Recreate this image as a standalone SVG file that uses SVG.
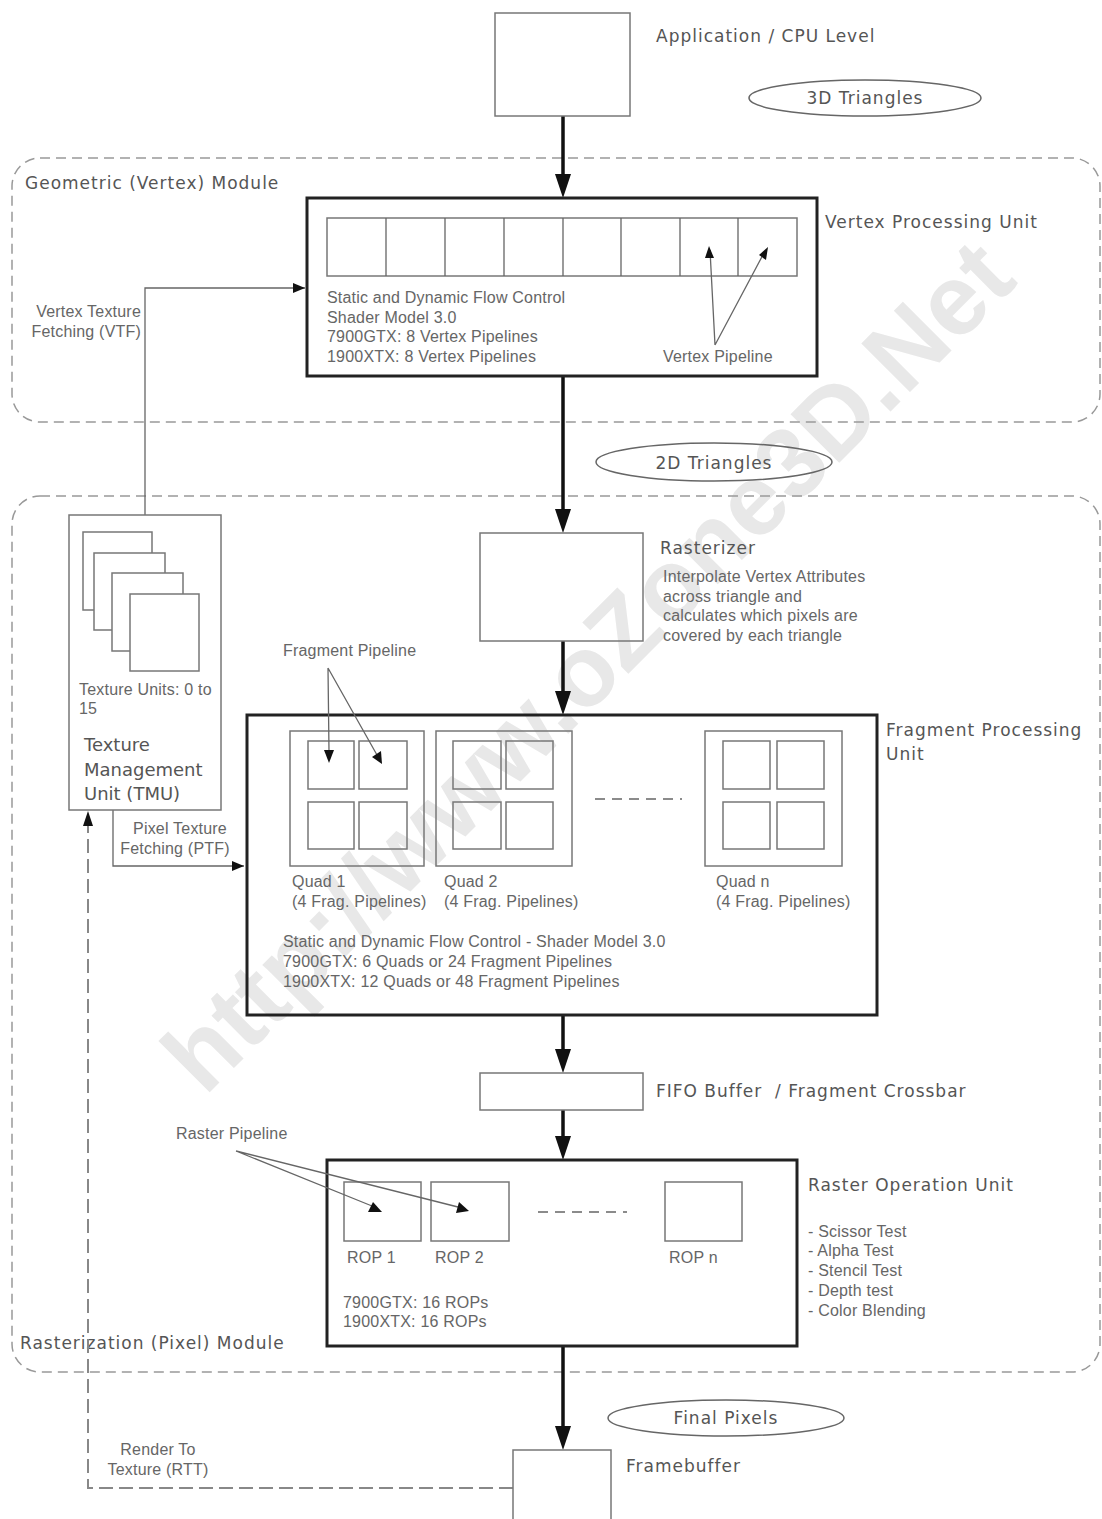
<svg xmlns="http://www.w3.org/2000/svg" width="1102" height="1519" viewBox="0 0 1102 1519">
<style>
.lbl{font-family:"DejaVu Sans",sans-serif;font-size:17px;letter-spacing:1px;fill:#555;white-space:pre}
.big{font-family:"DejaVu Sans",sans-serif;font-size:18px;fill:#555}
.sm{font-family:"Liberation Sans",Arial,sans-serif;font-size:16px;letter-spacing:0.2px;fill:#666}
.box{fill:none;stroke:#777;stroke-width:1.5}
.thick{fill:none;stroke:#222;stroke-width:3}
.mod{fill:none;stroke:#999;stroke-width:1.5;stroke-dasharray:10,6}
.flow{stroke:#111;stroke-width:3.5;fill:none}
.thin{stroke:#666;stroke-width:1.3;fill:none}
.ell{fill:none;stroke:#666;stroke-width:1.5}
.wm{font-family:"Liberation Sans",Arial,sans-serif;font-weight:bold;font-size:100px;fill:#e8e8e8}
</style>
<defs>
<marker id="ah" markerWidth="14" markerHeight="14" refX="12" refY="5" orient="auto" markerUnits="userSpaceOnUse" viewBox="0 0 14 10">
<path d="M0,0 L12,5 L0,10 Z" fill="#111"/>
</marker>
</defs>
<rect width="1102" height="1519" fill="#fff"/>
<text class="wm" transform="translate(612,690) rotate(-45)" text-anchor="middle">http://www.oZone3D.Net</text>

<g id="modules">
<rect id="geometric-module" class="mod" x="12" y="158" width="1088" height="264" rx="28"/>
<text class="lbl" x="25" y="189">Geometric (Vertex) Module</text>
<rect id="pixel-module" class="mod" x="12" y="496" width="1088" height="876" rx="28"/>
<text class="lbl" x="20" y="1349">Rasterization (Pixel) Module</text>
</g>

<g id="connectors">
<path class="flow" d="M563,116 V176"/>
<path d="M555,174 L571,174 L563,198 Z" fill="#111"/>
<path class="flow" d="M563,376 V511"/>
<path d="M555,509 L571,509 L563,533 Z" fill="#111"/>
<path class="flow" d="M563,641 V693"/>
<path d="M555,691 L571,691 L563,715 Z" fill="#111"/>
<path class="flow" d="M563,1015 V1051"/>
<path d="M555,1049 L571,1049 L563,1073 Z" fill="#111"/>
<path class="flow" d="M563,1110 V1138"/>
<path d="M555,1136 L571,1136 L563,1160 Z" fill="#111"/>
<path class="flow" d="M563,1346 V1428"/>
<path d="M555,1426 L571,1426 L563,1450 Z" fill="#111"/>
<path id="vtf" class="thin" d="M145,515 V288 H305" marker-end="url(#ah)"/>
<path id="ptf" class="thin" d="M113,810 V866 H244" marker-end="url(#ah)"/>
<path id="rtt" d="M513,1488 H88 V814" fill="none" stroke="#888" stroke-width="2" stroke-dasharray="14,6"/>
<path d="M83,826 L88,811 L93,826 Z" fill="#111"/>
</g>

<g id="app">
<rect class="box" x="495" y="13" width="135" height="103"/>
<text class="lbl" x="656" y="42">Application / CPU Level</text>
</g>
<g id="tri3d">
<ellipse class="ell" cx="865" cy="98" rx="116" ry="18"/>
<text class="lbl" x="865" y="104" text-anchor="middle">3D Triangles</text>
</g>

<g id="vpu">
<rect class="thick" x="307" y="198" width="510" height="178"/>
<rect class="box" x="327" y="218" width="470" height="58"/>
<path class="thin" d="M386,218 V276 M445,218 V276 M504,218 V276 M563,218 V276 M621,218 V276 M680,218 V276 M738,218 V276"/>
<text class="sm" x="327" y="303">Static and Dynamic Flow Control</text>
<text class="sm" x="327" y="323">Shader Model 3.0</text>
<text class="sm" x="327" y="342">7900GTX: 8 Vertex Pipelines</text>
<text class="sm" x="327" y="362">1900XTX: 8 Vertex Pipelines</text>
<text class="sm" x="663" y="362">Vertex Pipeline</text>
<path class="thin" d="M715,345 L710,250 M715,345 L765,251"/>
<path d="M705,258 L709,246 L714,258 Z" fill="#111"/>
<path d="M759,255 L768,247 L766,260 Z" fill="#111"/>
<text class="lbl" x="825" y="228">Vertex Processing Unit</text>
<text class="sm" x="141" y="317" text-anchor="end">Vertex Texture</text>
<text class="sm" x="141" y="337" text-anchor="end">Fetching (VTF)</text>
</g>

<g id="tri2d">
<ellipse class="ell" cx="714" cy="462" rx="118" ry="19"/>
<text class="lbl" x="714" y="469" text-anchor="middle">2D Triangles</text>
</g>

<g id="tmu">
<rect class="box" x="69" y="515" width="152" height="295"/>
<path class="box" d="M94,610 H83 V532 H152 V553"/>
<path class="box" d="M112,630 H94 V553 H165 V573"/>
<path class="box" d="M130,651 H112 V573 H183 V594"/>
<rect class="box" x="130" y="594" width="69" height="77"/>
<text class="sm" x="79" y="695">Texture Units: 0 to</text>
<text class="sm" x="79" y="714">15</text>
<text class="big" x="84" y="751">Texture</text>
<text class="big" x="84" y="776">Management</text>
<text class="big" x="84" y="800">Unit  (TMU)</text>
<text class="sm" x="180" y="834" text-anchor="middle">Pixel Texture</text>
<text class="sm" x="175" y="854" text-anchor="middle">Fetching (PTF)</text>
</g>

<g id="rasterizer">
<rect class="box" x="480" y="533" width="163" height="108"/>
<text class="lbl" x="660" y="554">Rasterizer</text>
<text class="sm" x="663" y="582">Interpolate Vertex Attributes</text>
<text class="sm" x="663" y="602">across triangle and</text>
<text class="sm" x="663" y="621">calculates which pixels are</text>
<text class="sm" x="663" y="641">covered by each triangle</text>
</g>

<g id="fpu">
<rect class="thick" x="247" y="715" width="630" height="300"/>
<rect class="box" x="290" y="731" width="134" height="135"/>
<rect class="box" x="308" y="741" width="46" height="48"/>
<rect class="box" x="359" y="741" width="48" height="48"/>
<rect class="box" x="308" y="802" width="46" height="47"/>
<rect class="box" x="359" y="802" width="48" height="47"/>
<rect class="box" x="436" y="731" width="136" height="135"/>
<rect class="box" x="453" y="741" width="48" height="48"/>
<rect class="box" x="506" y="741" width="47" height="48"/>
<rect class="box" x="453" y="802" width="48" height="47"/>
<rect class="box" x="506" y="802" width="47" height="47"/>
<path class="thin" d="M595,799 H682" stroke-dasharray="10,7"/>
<rect class="box" x="705" y="731" width="137" height="135"/>
<rect class="box" x="723" y="741" width="47" height="48"/>
<rect class="box" x="777" y="741" width="47" height="48"/>
<rect class="box" x="723" y="802" width="47" height="47"/>
<rect class="box" x="777" y="802" width="47" height="47"/>
<text class="sm" x="292" y="887">Quad 1</text>
<text class="sm" x="292" y="907">(4 Frag. Pipelines)</text>
<text class="sm" x="444" y="887">Quad 2</text>
<text class="sm" x="444" y="907">(4 Frag. Pipelines)</text>
<text class="sm" x="716" y="887">Quad n</text>
<text class="sm" x="716" y="907">(4 Frag. Pipelines)</text>
<text class="sm" x="283" y="947">Static and Dynamic Flow Control - Shader Model 3.0</text>
<text class="sm" x="283" y="967">7900GTX: 6 Quads or 24 Fragment Pipelines</text>
<text class="sm" x="283" y="987">1900XTX: 12 Quads or 48 Fragment Pipelines</text>
<text class="lbl" x="886" y="736">Fragment Processing</text>
<text class="lbl" x="886" y="760">Unit</text>
<text class="sm" x="283" y="656">Fragment Pipeline</text>
<path class="thin" d="M328,668 L329,752 M328,668 L377,755"/>
<path d="M324,750 L334,750 L329,763 Z" fill="#111"/>
<path d="M372,757 L381,751 L382,764 Z" fill="#111"/>
</g>

<g id="fifo">
<rect class="box" x="480" y="1073" width="163" height="37"/>
<text class="lbl" x="656" y="1097">FIFO Buffer  / Fragment Crossbar</text>
</g>

<g id="rop">
<rect class="thick" x="327" y="1160" width="470" height="186"/>
<rect class="box" x="344" y="1182" width="77" height="59"/>
<rect class="box" x="431" y="1182" width="78" height="59"/>
<rect class="box" x="665" y="1182" width="77" height="59"/>
<path class="thin" d="M538,1212 H627" stroke-dasharray="10,7"/>
<text class="sm" x="347" y="1263">ROP 1</text>
<text class="sm" x="435" y="1263">ROP 2</text>
<text class="sm" x="669" y="1263">ROP n</text>
<text class="sm" x="343" y="1308">7900GTX: 16 ROPs</text>
<text class="sm" x="343" y="1327">1900XTX: 16 ROPs</text>
<text class="lbl" x="808" y="1191">Raster Operation Unit</text>
<text class="sm" x="808" y="1237">- Scissor Test</text>
<text class="sm" x="808" y="1256">- Alpha Test</text>
<text class="sm" x="808" y="1276">- Stencil Test</text>
<text class="sm" x="808" y="1296">- Depth test</text>
<text class="sm" x="808" y="1316">- Color Blending</text>
<text class="sm" x="176" y="1139">Raster Pipeline</text>
<path class="thin" d="M236,1151 L372,1206 M236,1151 L458,1207"/>
<path d="M368,1212 L373,1202 L382,1212 Z" fill="#111"/>
<path d="M456,1213 L459,1202 L469,1211 Z" fill="#111"/>
</g>

<g id="finalpix">
<ellipse class="ell" cx="726" cy="1418" rx="118" ry="18"/>
<text class="lbl" x="726" y="1424" text-anchor="middle">Final Pixels</text>
</g>

<g id="framebuffer">
<rect class="box" x="513" y="1450" width="98" height="80"/>
<text class="lbl" x="626" y="1472">Framebuffer</text>
<text class="sm" x="158" y="1455" text-anchor="middle">Render To</text>
<text class="sm" x="158" y="1475" text-anchor="middle">Texture (RTT)</text>
</g>
</svg>
